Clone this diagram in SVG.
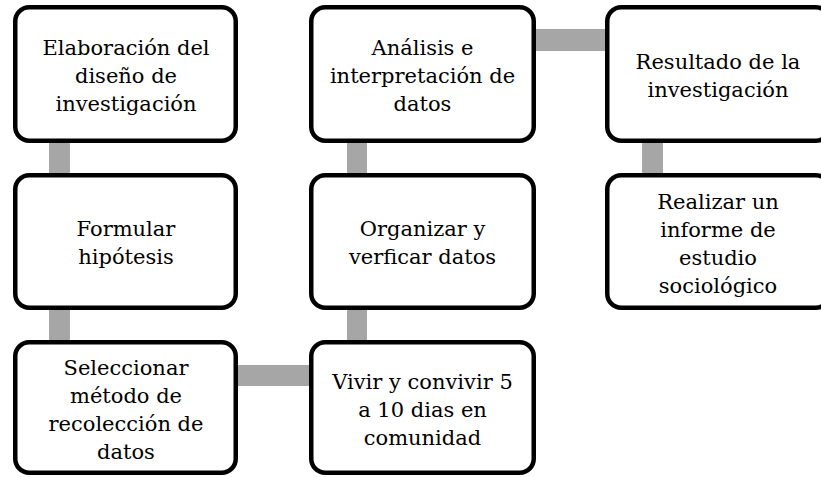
<svg xmlns="http://www.w3.org/2000/svg" width="821" height="477" viewBox="0 0 821 477">
<style>
.box{fill:#ffffff;stroke:#000000;stroke-width:4.5}
.con{fill:#a6a6a6}
text{font-family:"DejaVu Serif", serif;font-size:21px;fill:#000000;text-anchor:middle}
</style>
<rect x="0" y="0" width="821" height="477" fill="#ffffff"/>
<g id="connectors">
<rect class="con" x="49" y="138" width="21" height="40"/>
<rect class="con" x="49" y="305" width="21" height="40"/>
<rect class="con" x="347" y="138" width="20" height="40"/>
<rect class="con" x="347" y="305" width="20" height="40"/>
<rect class="con" x="642" y="138" width="21" height="40"/>
<rect class="con" x="531" y="29" width="79" height="22"/>
<rect class="con" x="233" y="365" width="81" height="21"/>
</g>
<g id="n1">
<rect class="box" x="15.25" y="7.25" width="220.5" height="133.5" rx="14"/>
<text x="126" y="55">Elaboración del</text>
<text x="126" y="83">diseño de</text>
<text x="126" y="111">investigación</text>
</g>
<g id="n2">
<rect class="box" x="15.25" y="175.25" width="220.5" height="132.5" rx="14"/>
<text x="126" y="236">Formular</text>
<text x="126" y="264">hipótesis</text>
</g>
<g id="n3">
<rect class="box" x="15.25" y="342.25" width="220.5" height="130.5" rx="14"/>
<text x="126" y="374.5">Seleccionar</text>
<text x="126" y="402.5">método de</text>
<text x="126" y="430.5">recolección de</text>
<text x="126" y="458.5">datos</text>
</g>
<g id="n4">
<rect class="box" x="311.25" y="342.25" width="222.5" height="130.5" rx="14"/>
<text x="422.5" y="388.5">Vivir y convivir 5</text>
<text x="422.5" y="416.5">a 10 dias en</text>
<text x="422.5" y="444.5">comunidad</text>
</g>
<g id="n5">
<rect class="box" x="311.25" y="175.25" width="222.5" height="132.5" rx="14"/>
<text x="422.5" y="236">Organizar y</text>
<text x="422.5" y="264">verficar datos</text>
</g>
<g id="n6">
<rect class="box" x="311.25" y="7.25" width="222.5" height="133.5" rx="14"/>
<text x="422.5" y="55">Análisis e</text>
<text x="422.5" y="83">interpretación de</text>
<text x="422.5" y="111">datos</text>
</g>
<g id="n7">
<rect class="box" x="607.25" y="7.25" width="222.5" height="133.5" rx="14"/>
<text x="718" y="68.5">Resultado de la</text>
<text x="718" y="96.5">investigación</text>
</g>
<g id="n8">
<rect class="box" x="607.25" y="175.25" width="222.5" height="132.5" rx="14"/>
<text x="718" y="208.5">Realizar un</text>
<text x="718" y="236.5">informe de</text>
<text x="718" y="264.5">estudio</text>
<text x="718" y="292.5">sociológico</text>
</g>
</svg>
